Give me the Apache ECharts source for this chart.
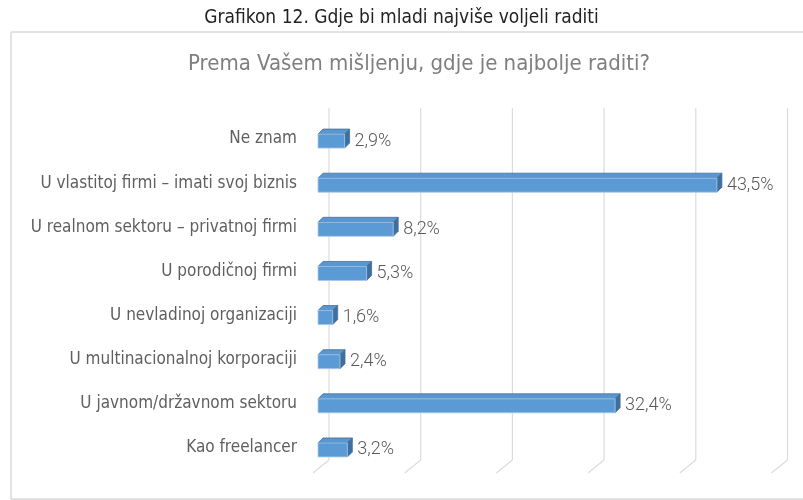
<!DOCTYPE html>
<html>
    <head>
        <meta charset='utf-8'>
        <script src='https://cdn.jsdelivr.net/npm/echarts@6/dist/echarts.min.js'></script>
    </head>
    <body style="margin:0">
        <style>
            html, body, #main {
                width: 803px;
                height: 500px;
                background: #fff;
            }
        </style>
        <div id='main'></div>
        <script>
            var categories = [
                'Ne znam',
                'U vlastitoj firmi – imati svoj biznis',
                'U realnom sektoru – privatnoj firmi',
                'U porodičnoj firmi',
                'U nevladinoj organizaciji',
                'U multinacionalnoj korporaciji',
                'U javnom/državnom sektoru',
                'Kao freelancer'
            ];
            var values = [2.9, 43.5, 8.2, 5.3, 1.6, 2.4, 32.4, 3.2];
            var valueLabels = ['2,9%', '43,5%', '8,2%', '5,3%', '1,6%', '2,4%', '32,4%', '3,2%'];
            var gridTicks = [0, 10, 20, 30, 40, 50];

            var narrow = '"Liberation Sans Narrow", "DejaVu Sans Condensed", sans-serif';

            var chart = echarts.init(document.getElementById('main'));

            // 3d-looking bar: front face, top face, right side
            function renderBar(params, api) {
                var idx = api.value(1);
                var p0 = api.coord([0, idx]);
                var p1 = api.coord([api.value(0), idx]);
                var x0 = p0[0], x1 = p1[0], c = p1[1];
                var top = c - 5, bot = c + 9, dx = 5, dy = 5;
                return {
                    type: 'group',
                    children: [
                        { type: 'polygon', shape: { points: [[x0, top], [x0 + dx, top - dy], [x1 + dx, top - dy], [x1, top]] },
                          style: { fill: '#5a96cf', stroke: '#41719c', lineWidth: 0.8 } },
                        { type: 'polygon', shape: { points: [[x1, top], [x1 + dx, top - dy], [x1 + dx, bot - dy], [x1, bot]] },
                          style: { fill: '#3f6f9e', stroke: '#41719c', lineWidth: 0.8 } },
                        { type: 'rect', shape: { x: x0, y: top, width: x1 - x0, height: bot - top },
                          style: { fill: '#5b9bd5', stroke: '#a9c8e8', lineWidth: 0.8 } },
                        { type: 'text', x: x1 + dx + 5, y: c + 2,
                          style: { text: valueLabels[params.dataIndex], fill: '#595959', font: '300 18px Roboto', textVerticalAlign: 'middle' } }
                    ]
                };
            }

            // gridlines on back wall plus floor diagonal
            function renderGrid(params, api) {
                var x = api.coord([api.value(0), 0])[0];
                var cs = params.coordSys;
                var b = cs.y + cs.height;
                var st = { stroke: '#dcdcdc', lineWidth: 1.2 };
                return {
                    type: 'group',
                    children: [
                        { type: 'line', shape: { x1: x + 11, y1: cs.y - 9, x2: x + 11, y2: b - 10 }, style: st },
                        { type: 'line', shape: { x1: x + 11, y1: b - 10, x2: x - 5, y2: b + 3 }, style: st }
                    ]
                };
            }

            var frame = { stroke: '#d9d9d9', lineWidth: 1.5 };

            chart.setOption({
                animation: false,
                title: [{
                    text: 'Grafikon 12. Gdje bi mladi najviše voljeli raditi',
                    left: 'center', top: 4,
                    textStyle: { fontFamily: narrow, fontWeight: 'normal', fontSize: 19, color: '#222' }
                }, {
                    text: 'Prema Vašem mišljenju, gdje je najbolje raditi?',
                    left: 414, top: 48, textAlign: 'center',
                    textStyle: { fontFamily: narrow, fontWeight: 'normal', fontSize: 22, color: '#7f7f7f' }
                }],
                graphic: [
                    { type: 'line', z: -10, shape: { x1: 11, y1: 32, x2: 803, y2: 32 }, style: frame },
                    { type: 'line', z: -10, shape: { x1: 11, y1: 32, x2: 11, y2: 499 }, style: frame },
                    { type: 'line', z: -10, shape: { x1: 11, y1: 499, x2: 803, y2: 499 }, style: frame }
                ],
                grid: { left: 318, right: 26.5, top: 117, bottom: 30 },
                xAxis: {
                    type: 'value', min: 0, max: 50, interval: 10,
                    axisLabel: { show: false }, axisLine: { show: false },
                    axisTick: { show: false }, splitLine: { show: false }
                },
                yAxis: {
                    type: 'category', data: categories, inverse: true,
                    axisLine: { show: false }, axisTick: { show: false },
                    axisLabel: { margin: 21, fontFamily: narrow, fontSize: 17, color: '#5f5f5f' }
                },
                series: [{
                    type: 'custom', z: 1, clip: false,
                    renderItem: renderGrid,
                    data: gridTicks.map(function (t) { return [t, 0]; })
                }, {
                    type: 'custom', z: 2, clip: false,
                    renderItem: renderBar,
                    data: values.map(function (v, i) { return [v, i]; })
                }]
            });
        </script>
    </body>
</html>
